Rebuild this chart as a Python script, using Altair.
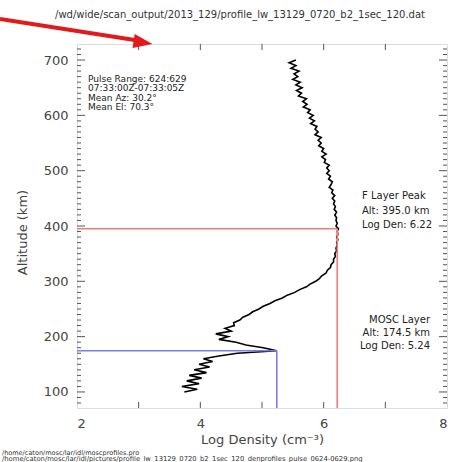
import altair as alt
import pandas as pd

# ---- data ----
altitude = [100, 105, 110, 115, 120, 125, 130, 135, 140, 145, 150, 155, 160, 165, 170,
            174.5, 180, 185, 190, 195, 200, 205, 210, 215, 220, 225, 230, 235, 240, 245,
            250, 255, 260, 265, 270, 275, 280, 285, 290, 295, 300, 305, 310, 315, 320,
            325, 330, 335, 340, 345, 350, 355, 360, 365, 370, 375, 380, 385, 390, 395,
            400, 405, 410, 415, 420, 425, 430, 435, 440, 445, 450, 455, 460, 465, 470,
            475, 480, 485, 490, 495, 500, 505, 510, 515, 520, 525, 530, 535, 540, 545,
            550, 555, 560, 565, 570, 575, 580, 585, 590, 595, 600, 605, 610, 615, 620,
            625, 630, 635, 640, 645, 650, 655, 660, 665, 670, 675, 680, 685, 690, 695, 700]
log_density = [3.74, 3.95, 3.70, 3.98, 3.78, 4.02, 3.82, 4.10, 3.90, 4.15, 3.98, 4.20, 4.05, 4.30, 4.60,
               5.24, 5.02, 4.74, 4.58, 4.30, 4.45, 4.25, 4.50, 4.40, 4.55, 4.54, 4.64, 4.69, 4.79, 4.85,
               4.95, 5.02, 5.13, 5.21, 5.33, 5.41, 5.53, 5.61, 5.72, 5.78, 5.87, 5.93, 5.97, 6.04, 6.06,
               6.11, 6.12, 6.16, 6.16, 6.19, 6.18, 6.21, 6.20, 6.22, 6.21, 6.23, 6.21, 6.23, 6.22, 6.24,
               6.20, 6.22, 6.20, 6.21, 6.18, 6.21, 6.17, 6.19, 6.16, 6.18, 6.14, 6.18, 6.13, 6.15, 6.09,
               6.12, 6.14, 6.08, 6.11, 6.05, 6.09, 6.05, 6.09, 6.01, 6.03, 5.97, 6.04, 5.97, 6.00, 5.92,
               5.96, 5.91, 5.96, 5.86, 5.91, 5.86, 5.89, 5.79, 5.85, 5.77, 5.83, 5.74, 5.78, 5.67, 5.73,
               5.66, 5.72, 5.59, 5.64, 5.56, 5.65, 5.55, 5.62, 5.50, 5.58, 5.52, 5.60, 5.47, 5.55, 5.44, 5.55]

peak_names = ["F", "MOSC"]
peak_alt = [395.0, 174.5]
peak_den = [6.22, 5.24]

x_domain = [2, 8]
y_domain = [71, 729]
x_tick_labels = [2, 4, 6, 8]
x_tick_marks = [3, 4, 5, 6, 7]
y_tick_labels = [100, 200, 300, 400, 500, 600, 700]
y_minor_ticks = [v for v in range(80, 730, 10) if v % 100 != 0]

title_text = "/wd/wide/scan_output/2013_129/profile_lw_13129_0720_b2_1sec_120.dat"
info_text = "Pulse Range: 624:629\n07:33:00Z-07:33:05Z\nMean Az: 30.2°\nMean El: 70.3°"
f_text = "F Layer Peak\nAlt: 395.0 km\nLog Den: 6.22"
mosc_text = "MOSC Layer\nAlt: 174.5 km\nLog Den:  5.24"
footer1 = "/home/caton/mosc/lar/idl/moscprofiles.pro"
footer2 = "/home/caton/mosc/lar/idl/pictures/profile_lw_13129_0720_b2_1sec_120_denprofiles_pulse_0624-0629.png"

# ---- chart ----
W, H = 370, 364
FONT = "DejaVu Sans"
xs = alt.Scale(domain=x_domain, nice=False, zero=False)
ys = alt.Scale(domain=y_domain, nice=False, zero=False)

x_axis = alt.Axis(
    values=x_tick_labels, format="d", title="Log Density (cm⁻³)", ticks=False, domain=False,
    grid=False, labelFontSize=13, labelColor="#444", labelFont=FONT, labelPadding=9,
    titleFont=FONT, titleFontSize=13, titleFontWeight="normal", titleColor="#444",
    titlePadding=3)
y_axis = alt.Axis(
    values=y_tick_labels, format="d", title="Altitude (km)", ticks=False, domain=False,
    grid=False, labelFontSize=13, labelColor="#444", labelFont=FONT, labelPadding=9,
    titleFont=FONT, titleFontSize=13, titleFontWeight="normal", titleColor="#444",
    titleX=-55, titleY=188, titleAngle=270, titleAlign="center", titleBaseline="middle")


def X(field):
    return alt.X(field, scale=xs, axis=x_axis)


def Y(field):
    return alt.Y(field, scale=ys, axis=y_axis)


profile = pd.DataFrame({"den": log_density, "alt": altitude, "i": list(range(len(altitude)))})
peaks = pd.DataFrame({"name": peak_names, "alt": peak_alt, "den": peak_den})
one = pd.DataFrame({"k": [0]})

color_scale = alt.Scale(domain=peak_names, range=["#f27b7b", "#7b7bf2"])

line = alt.Chart(profile).mark_line(color="black", strokeWidth=1.6).encode(
    x=X("den:Q"), y=Y("alt:Q"), order="i:Q")

hrule = alt.Chart(peaks).mark_rule(strokeWidth=1.6).encode(
    x=X("den:Q"), x2=alt.value(0), y=Y("alt:Q"),
    color=alt.Color("name:N", scale=color_scale, legend=None))
vrule = alt.Chart(peaks).mark_rule(strokeWidth=1.6).encode(
    x=X("den:Q"), y=Y("alt:Q"), y2=alt.value(H),
    color=alt.Color("name:N", scale=color_scale, legend=None))

TICK_COLOR = "#555"


def yticks(values, length):
    d = pd.DataFrame({"v": values})
    left = alt.Chart(d).mark_rule(color=TICK_COLOR, strokeWidth=1).encode(
        y=Y("v:Q"), x=alt.value(0), x2=alt.value(length))
    right = alt.Chart(d).mark_rule(color=TICK_COLOR, strokeWidth=1).encode(
        y=Y("v:Q"), x=alt.value(W), x2=alt.value(W - length))
    return [left, right]


def xticks(values, length):
    d = pd.DataFrame({"v": values})
    top = alt.Chart(d).mark_rule(color=TICK_COLOR, strokeWidth=1).encode(
        x=X("v:Q"), y=alt.value(0), y2=alt.value(length))
    bottom = alt.Chart(d).mark_rule(color=TICK_COLOR, strokeWidth=1).encode(
        x=X("v:Q"), y=alt.value(H), y2=alt.value(H - length))
    return [top, bottom]


def label(text, x, y, size, align="left", baseline="top", line_height=None, color="#222"):
    kw = dict(text=text, align=align, baseline=baseline, fontSize=size, font=FONT, color=color,
              lineBreak="\n")
    if line_height is not None:
        kw["lineHeight"] = line_height
    return alt.Chart(one).mark_text(**kw).encode(x=alt.value(x), y=alt.value(y))


ARROW = "#e3191c"
arrow_line = alt.Chart(one).mark_rule(color=ARROW, strokeWidth=4).encode(
    x=alt.value(-77), y=alt.value(-25), x2=alt.value(64), y2=alt.value(-3))
arrow_head = alt.Chart(one).mark_point(
    shape="M -1 -0.75 L 1 0 L -1 0.75 Z", filled=True, size=360, angle=9, color=ARROW, opacity=1
).encode(x=alt.value(66), y=alt.value(-1.5))

layers = [line, hrule, vrule]
layers += yticks(y_minor_ticks, 4) + yticks(y_tick_labels, 8) + xticks(x_tick_marks, 6)
layers += [
    label(title_text, 163, -29, 10, align="center", baseline="middle", color="#333"),
    label(info_text, 11, 31, 9, line_height=9.3),
    label(f_text, 285, 147, 10, line_height=14.5),
    label(mosc_text, 353, 271, 10, align="right", line_height=13),
    label(footer1, -75, 409, 6.5, baseline="middle", color="#333"),
    label(footer2, -75, 415, 6.8, baseline="middle", color="#333"),
    arrow_line, arrow_head,
]

chart = alt.layer(*layers).properties(
    width=W, height=H,
    autosize=alt.AutoSizeParams(type="none"),
    padding={"left": 77, "top": 44, "right": 5, "bottom": 54},
).configure_view(stroke="#555", strokeWidth=1).configure(background="white")

chart.save("out.html", embed_options={"renderer": "svg", "actions": False})
